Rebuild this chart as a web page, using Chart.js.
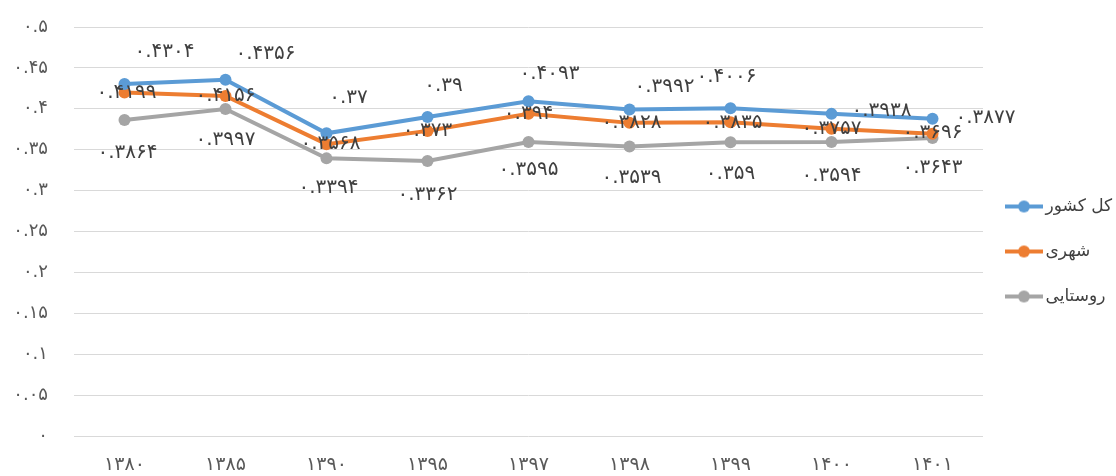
<!DOCTYPE html>
<html>
<head>
<meta charset="utf-8">
<script src="https://cdn.jsdelivr.net/npm/chart.js@4/dist/chart.umd.min.js"></script>
<style>
  html, body { margin: 0; padding: 0; background: #fff; }
  #wrap { width: 1116px; height: 476px; }
</style>
</head>
<body>
<div id="wrap"><canvas id="chart" width="1116" height="476"></canvas></div>
<script>
// Gini index by year (Persian calendar)
const years = ['۱۳۸۰', '۱۳۸۵', '۱۳۹۰', '۱۳۹۵', '۱۳۹۷', '۱۳۹۸', '۱۳۹۹', '۱۴۰۰', '۱۴۰۱'];
const kolKeshvar = [0.4304, 0.4356, 0.37, 0.39, 0.4093, 0.3992, 0.4006, 0.3938, 0.3877];
const shahri = [0.4199, 0.4156, 0.3568, 0.373, 0.394, 0.3828, 0.3835, 0.3757, 0.3696];
const rustaei = [0.3864, 0.3997, 0.3394, 0.3362, 0.3595, 0.3539, 0.359, 0.3594, 0.3643];

const FONT = '"DejaVu Sans", "Noto Sans", sans-serif';
const faDigits = '۰۱۲۳۴۵۶۷۸۹';
const toFa = (s) => String(s).replace(/[0-9]/g, d => faDigits[+d]);

// little "line with a dot" sample for the legend
function legendSample(color) {
  const c = document.createElement('canvas');
  c.width = 40; c.height = 14;
  const x = c.getContext('2d');
  x.strokeStyle = color; x.lineWidth = 4;
  x.beginPath(); x.moveTo(1, 7); x.lineTo(39, 7); x.stroke();
  x.fillStyle = color;
  x.beginPath(); x.arc(20, 7, 6, 0, Math.PI * 2); x.fill();
  return c;
}

// value labels drawn next to each point (nudges are just label placement)
const labelNudge = [
  [[40, -32], [40, -26], [22, -36], [16, -31], [21, -27], [35, -23], [-4, -32], [50, -3], [53, -1]],
  [[2, 0], [0, 0], [4, 0], [0, 0], [0, 0], [2, 0], [2, 0], [0, 0], [0, -1]],
  [[3, 33], [0, 31], [2, 29], [0, 34], [0, 28], [2, 31], [0, 31], [0, 34], [0, 30]]
];

const valueLabels = {
  id: 'valueLabels',
  afterDatasetsDraw(chart) {
    const ctx = chart.ctx;
    ctx.save();
    ctx.font = '20px ' + FONT;
    ctx.fillStyle = '#404040';
    ctx.textAlign = 'center';
    ctx.textBaseline = 'middle';
    chart.data.datasets.forEach((ds, i) => {
      const meta = chart.getDatasetMeta(i);
      meta.data.forEach((pt, j) => {
        const n = labelNudge[i][j];
        ctx.fillText(toFa(ds.data[j]), pt.x + n[0], pt.y + n[1]);
      });
    });
    ctx.restore();
  }
};

const colors = ['#5B9BD5', '#ED7D31', '#A5A5A5'];
const names = ['کل کشور', 'شهری', 'روستایی'];
const series = [kolKeshvar, shahri, rustaei];

new Chart(document.getElementById('chart'), {
  type: 'line',
  data: {
    labels: years,
    datasets: series.map((d, i) => ({
      label: names[i],
      data: d,
      borderColor: colors[i],
      backgroundColor: colors[i],
      borderWidth: 4,
      pointRadius: 6,
      pointHoverRadius: 6,
      pointBorderWidth: 0,
      tension: 0
    }))
  },
  options: {
    responsive: false,
    animation: false,
    layout: { padding: { top: 27, left: 0, right: 0, bottom: 0 } },
    plugins: {
      tooltip: { enabled: false },
      legend: {
        position: 'right',
        maxWidth: 133,
        labels: {
          usePointStyle: true,
          pointStyleWidth: 26,
          padding: 28,
          color: '#404040',
          font: { family: FONT, size: 17 },
          generateLabels: (chart) => chart.data.datasets.map((ds, i) => ({
            text: ds.label,
            pointStyle: legendSample(colors[i]),
            fillStyle: colors[i],
            strokeStyle: colors[i],
            lineWidth: 0,
            datasetIndex: i,
            fontColor: '#404040'
          }))
        }
      }
    },
    scales: {
      x: {
        offset: true,
        grid: { display: false },
        border: { display: false },
        ticks: { color: '#595959', padding: 10, font: { family: FONT, size: 19 } },
        afterFit: (s) => { s.height = 40; }
      },
      y: {
        min: 0,
        max: 0.5,
        grid: { color: '#D9D9D9', lineWidth: 1, drawTicks: false },
        border: { display: false },
        ticks: {
          stepSize: 0.05,
          padding: 26,
          color: '#595959',
          font: { family: FONT, size: 18 },
          callback: (v) => toFa(+v.toFixed(2))
        },
        afterFit: (s) => {
          s.width = 74;
          // tick padding would otherwise push the plot top down
          s.paddingTop = 0;
          s.paddingBottom = 0;
        }
      }
    }
  },
  plugins: [valueLabels]
});
</script>
</body>
</html>
